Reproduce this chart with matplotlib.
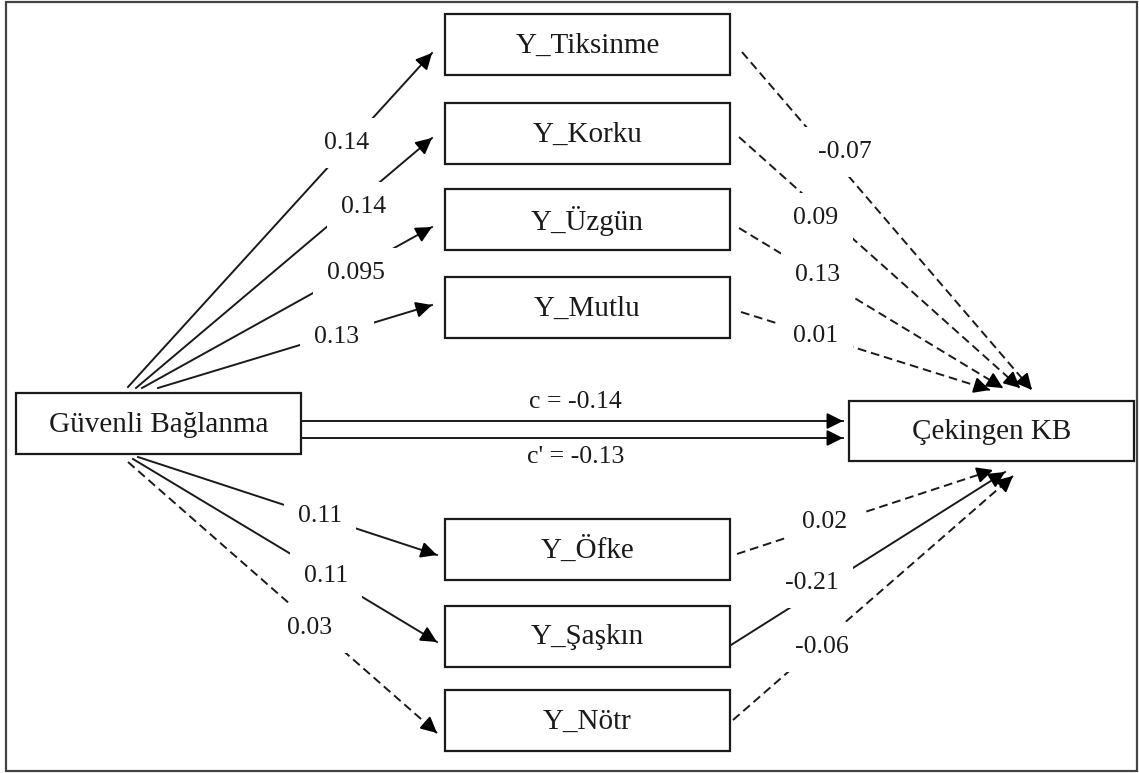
import numpy as np
import matplotlib.pyplot as plt
from matplotlib.patches import Rectangle

plt.rcParams['font.family'] = ['Liberation Serif', 'DejaVu Serif']

# path model values
mediators = ['Y_Tiksinme', 'Y_Korku', 'Y_Üzgün', 'Y_Mutlu', 'Y_Öfke', 'Y_Şaşkın', 'Y_Nötr']
a_coef = ['0.14', '0.14', '0.095', '0.13', '0.11', '0.11', '0.03']
b_coef = ['-0.07', '0.09', '0.13', '0.01', '0.02', '-0.21', '-0.06']
a_sig = [True, True, True, True, True, True, False]
b_sig = [False, False, False, False, False, True, False]
predictor = 'Güvenli Bağlanma'
outcome = 'Çekingen KB'
c_total = 'c = -0.14'
c_direct = "c' = -0.13"

# layout (pixel coords, y down)
W, H = 1139, 773
med_top = [14, 103, 189, 277, 519, 606, 690]
med_x0, med_x1, med_h = 445, 730, 61
a_start = [(128, 387), (136, 388), (142, 388), (158, 388), (138, 457), (133, 459), (128, 462)]
a_end = [(432, 53), (432, 138), (432, 227), (432, 305), (437, 555), (437, 642), (437, 733)]
a_lab = [(347, 143), (364, 207), (356, 273), (337, 337), (320, 516), (326, 576), (310, 628)]
b_start = [(742, 52), (739, 137), (739, 228), (741, 312), (737, 554), (731, 645), (733, 720)]
b_end = [(1032, 390), (1020, 388), (1003, 388), (990, 390), (993, 470), (1005, 472), (1013, 476)]
b_lab = [(845, 152), (816, 218), (818, 275), (816, 336), (825, 522), (812, 583), (822, 647)]

fig = plt.figure(figsize=(W / 100, H / 100), dpi=100)
ax = fig.add_axes([0, 0, 1, 1])
ax.set_xlim(0, W)
ax.set_ylim(H, 0)
ax.axis('off')

box_fs = 21
lab_fs = 18.5
lw = 1.4
ink = '#1a1a1a'
dash = (0, (4.5, 2.5))


def box(x0, y0, x1, y1, text):
    ax.add_patch(Rectangle((x0, y0), x1 - x0, y1 - y0, fill=False, ec=ink, lw=1.6, zorder=3))
    ax.text((x0 + x1) / 2, (y0 + y1) / 2 + 1, text, ha='center', va='center',
            fontsize=box_fs, color=ink, zorder=4)


def arrow(p0, p1, solid):
    p0 = np.array(p0, float)
    p1 = np.array(p1, float)
    ax.plot([p0[0], p1[0]], [p0[1], p1[1]], color=ink, lw=lw,
            linestyle='-' if solid else dash, zorder=1)
    d = (p1 - p0) / np.hypot(*(p1 - p0))
    back = p1 - d * 14
    ax.annotate('', xy=tuple(p1), xytext=tuple(back),
                arrowprops=dict(arrowstyle='-|>,head_length=0.8,head_width=0.4',
                                mutation_scale=12, color='k', lw=lw,
                                shrinkA=0, shrinkB=0), zorder=2)


def label(pos, text):
    ax.text(pos[0], pos[1], text, ha='center', va='center', fontsize=lab_fs, color=ink,
            zorder=5, bbox=dict(boxstyle='square,pad=0.55', fc='white', ec='none'))


# outer frame
ax.add_patch(Rectangle((6, 2), 1131, 769, fill=False, ec='#444444', lw=1.6, zorder=0))

box(16, 393, 301, 454, predictor)
box(849, 401, 1134, 461, outcome)
for name, top in zip(mediators, med_top):
    box(med_x0, top, med_x1, top + med_h, name)

for i in range(len(mediators)):
    arrow(a_start[i], a_end[i], a_sig[i])
    label(a_lab[i], a_coef[i])
    arrow(b_start[i], b_end[i], b_sig[i])
    label(b_lab[i], b_coef[i])

# direct and total effects
arrow((301, 421), (843, 421), True)
arrow((301, 438), (843, 438), True)
ax.text(575, 402, c_total, ha='center', va='center', fontsize=lab_fs, color=ink)
ax.text(576, 457, c_direct, ha='center', va='center', fontsize=lab_fs, color=ink)

fig.savefig('out.png', dpi=100)
